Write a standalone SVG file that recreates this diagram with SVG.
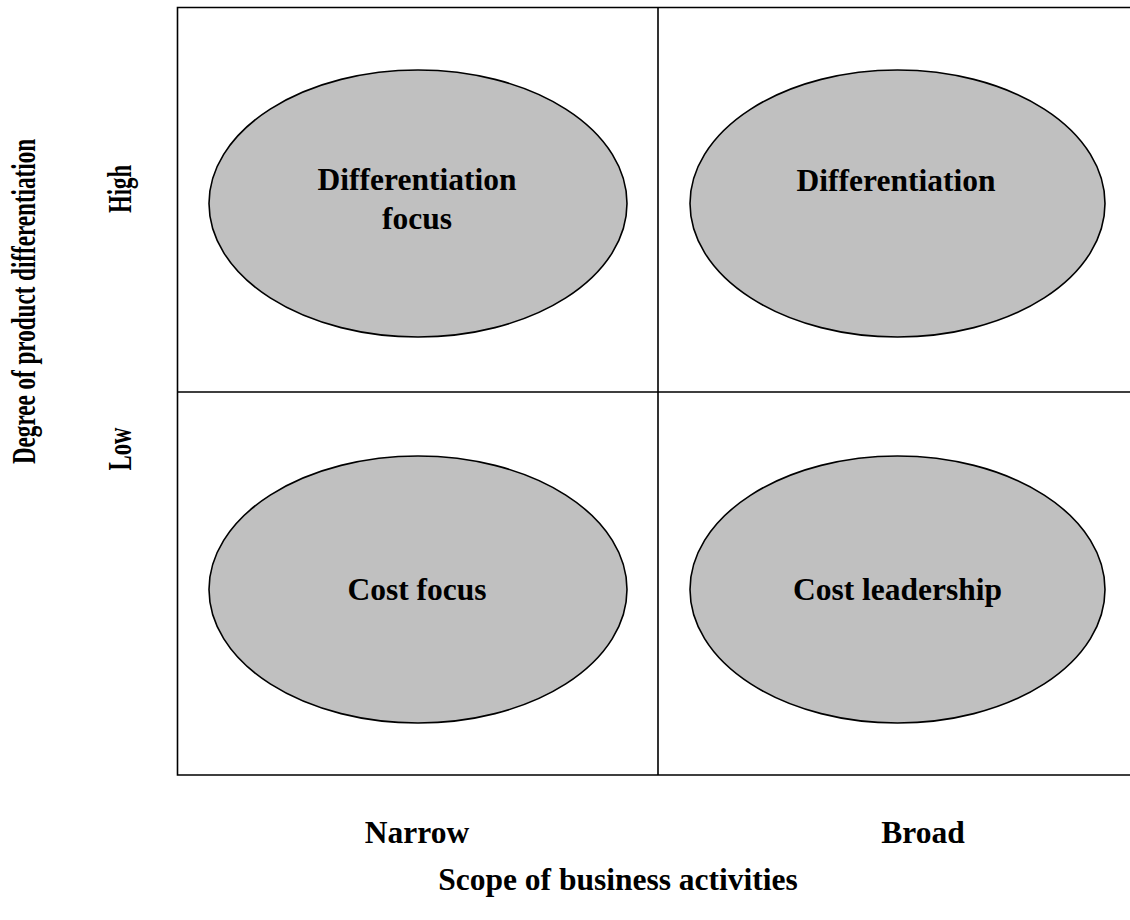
<svg xmlns="http://www.w3.org/2000/svg" width="1130" height="920" viewBox="0 0 1130 920">
<style>
.grid{fill:none;stroke:#000;stroke-width:1.6}
.ell{fill:#c0c0c0;stroke:#000;stroke-width:1.6}
.t{font-family:"Liberation Serif","Times New Roman",serif;font-weight:bold;font-size:31.5px;fill:#000;text-anchor:middle}
.v{font-family:"Liberation Serif","Times New Roman",serif;font-weight:bold;font-size:33px;fill:#000;text-anchor:middle}
</style>
<rect width="1130" height="920" fill="#fff"/>
<g id="grid">
<path class="grid" d="M1135,7.5 H177.5 V775 H1135 M658,7.5 V775 M177.5,392 H1135"/>
</g>
<g id="differentiation-focus">
<ellipse class="ell" cx="418" cy="203.5" rx="209" ry="133.5"/>
<text class="t" x="417" y="190">Differentiation</text>
<text class="t" x="417" y="229">focus</text>
</g>
<g id="differentiation">
<ellipse class="ell" cx="897.5" cy="203.5" rx="207.5" ry="133.5"/>
<text class="t" x="896" y="191">Differentiation</text>
</g>
<g id="cost-focus">
<ellipse class="ell" cx="418" cy="589.5" rx="209" ry="133.5"/>
<text class="t" x="417" y="600">Cost focus</text>
</g>
<g id="cost-leadership">
<ellipse class="ell" cx="897.5" cy="589.5" rx="207.5" ry="133.5"/>
<text class="t" x="897.5" y="600">Cost leadership</text>
</g>
<g id="axis-labels">
<text class="t" x="417" y="843">Narrow</text>
<text class="t" x="923" y="843">Broad</text>
<text class="t" x="618" y="890">Scope of business activities</text>
<text class="v" transform="translate(35,301.5) rotate(-90) scale(0.7,1)">Degree of product differentiation</text>
<text class="v" transform="translate(131,189) rotate(-90) scale(0.69,1)">High</text>
<text class="v" transform="translate(131,449) rotate(-90) scale(0.69,1)">Low</text>
</g>
</svg>
